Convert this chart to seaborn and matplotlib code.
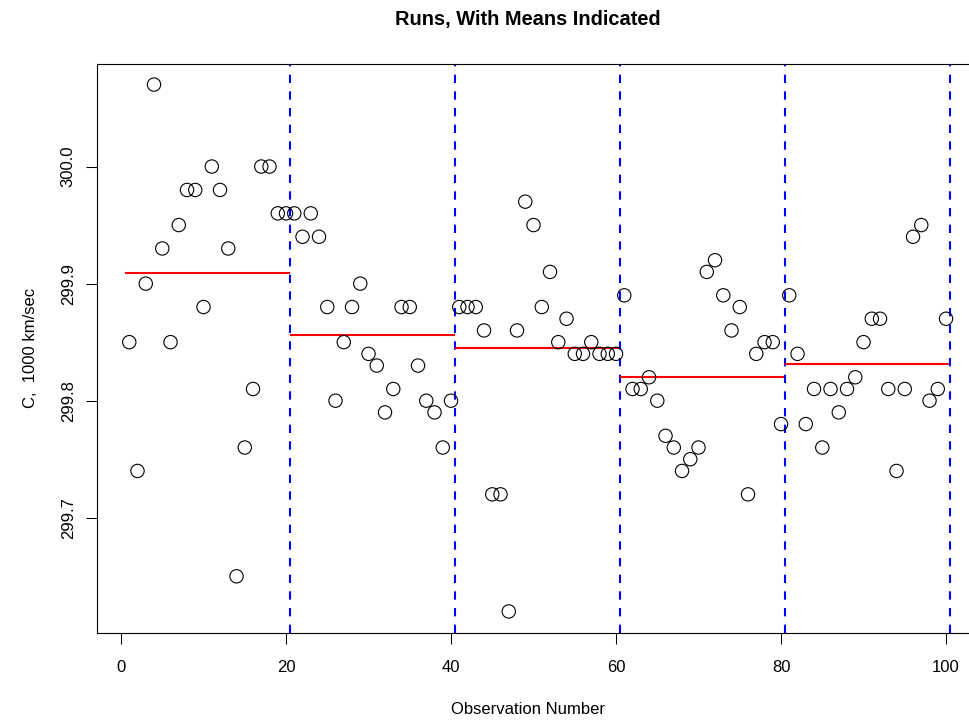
import numpy as np
import pandas as pd
import matplotlib
matplotlib.use("Agg")
import matplotlib.pyplot as plt
import seaborn as sns

# Michelson speed-of-light runs (km/sec minus 299000), five experiments of 20 runs
expt1 = [850, 740, 900, 1070, 930, 850, 950, 980, 980, 880,
         1000, 980, 930, 650, 760, 810, 1000, 1000, 960, 960]
expt2 = [960, 940, 960, 940, 880, 800, 850, 880, 900, 840,
         830, 790, 810, 880, 880, 830, 800, 790, 760, 800]
expt3 = [880, 880, 880, 860, 720, 720, 620, 860, 970, 950,
         880, 910, 850, 870, 840, 840, 850, 840, 840, 840]
expt4 = [890, 810, 810, 820, 800, 770, 760, 740, 750, 760,
         910, 920, 890, 860, 880, 720, 840, 850, 850, 780]
expt5 = [890, 840, 780, 810, 760, 810, 790, 810, 820, 850,
         870, 870, 810, 740, 810, 940, 950, 800, 810, 870]
experiments = [expt1, expt2, expt3, expt4, expt5]
x_ticks = [0, 20, 40, 60, 80, 100]
y_ticks = [299.7, 299.8, 299.9, 300.0]

rows = []
for e, runs in enumerate(experiments, start=1):
    for r, v in enumerate(runs, start=1):
        rows.append({"expt": e, "run": r, "speed": (299000 + v) / 1000.0})
df = pd.DataFrame(rows)
df["obs"] = np.arange(1, len(df) + 1)

sns.set_theme(style="white")
plt.rcParams["font.family"] = ["Liberation Sans", "DejaVu Sans"]
plt.rcParams["text.color"] = "black"
plt.rcParams["axes.labelcolor"] = "black"
plt.rcParams["xtick.color"] = "black"
plt.rcParams["ytick.color"] = "black"

W, H, DPI = 970, 723, 100
fig = plt.figure(figsize=(W / DPI, H / DPI), dpi=DPI)

# full plot region would span x = -2.96..103.96 over 96.6..978.7 px;
# the axes is cut at the right figure edge, keeping the same scale
left_px, full_right_px, top_px, bot_px = 96.6, 978.7, 63.5, 632.5
right_px = W
ax = fig.add_axes([left_px / W, 1 - bot_px / H,
                   (right_px - left_px) / W, (bot_px - top_px) / H])
ax.patch.set_edgecolor("none")

sns.scatterplot(data=df, x="obs", y="speed", ax=ax, marker="o", s=92,
                facecolors="none", edgecolor="black", linewidth=0.8,
                legend=False, zorder=3)

# experiment means as red segments, run boundaries as blue dashed lines
xr = (df["obs"].min(), df["obs"].max())
yr = (df["speed"].min(), df["speed"].max())
for e, g in df.groupby("expt"):
    start = g["obs"].min() - 0.5
    end = g["obs"].max() + 0.5
    ax.plot([start, end], [g["speed"].mean()] * 2, color="#FF0000", lw=1.5,
            solid_capstyle="butt", zorder=2)
    ax.axvline(end, color="#0000FF", lw=1.5, dashes=(4, 4), zorder=2)

pad_x = 0.04 * (xr[1] - xr[0])
pad_y = 0.04 * (yr[1] - yr[0])
x_lo, x_hi = xr[0] - pad_x, xr[1] + pad_x
x_hi_cut = x_lo + (x_hi - x_lo) * (right_px - left_px) / (full_right_px - left_px)
ax.set_xlim(x_lo, x_hi_cut)
ax.set_ylim(yr[0] - pad_y, yr[1] + pad_y)

ax.set_xticks(x_ticks)
ax.set_xticklabels([str(t) for t in x_ticks])
ax.set_yticks(y_ticks)
ax.set_yticklabels([f"{t:.1f}" for t in y_ticks], rotation=90, va="center")

ax.tick_params(axis="both", which="major", direction="out", length=8,
               width=0.75, color="black", labelsize=12, labelcolor="black",
               bottom=True, left=True, top=False, right=False)
ax.tick_params(axis="x", pad=12)
ax.tick_params(axis="y", pad=7)

for name, sp in ax.spines.items():
    sp.set_visible(name != "right")
    sp.set_color("black")
    sp.set_linewidth(0.8)

ax.set_xlabel("")
ax.set_ylabel("")
fig.text(528 / W, 1 - 710 / H, "Observation Number", ha="center",
         va="center", fontsize=12, color="black")
fig.text(31 / W, 1 - 348 / H, "C,  1000 km/sec", ha="center", va="center",
         rotation=90, fontsize=12, color="black")
fig.text(528 / W, 1 - 19 / H, "Runs, With Means Indicated", ha="center",
         va="center", fontsize=14.4, fontweight="bold", color="black")

ax.set_facecolor("white")
fig.patch.set_facecolor("white")
fig.savefig("out.png", dpi=DPI)
